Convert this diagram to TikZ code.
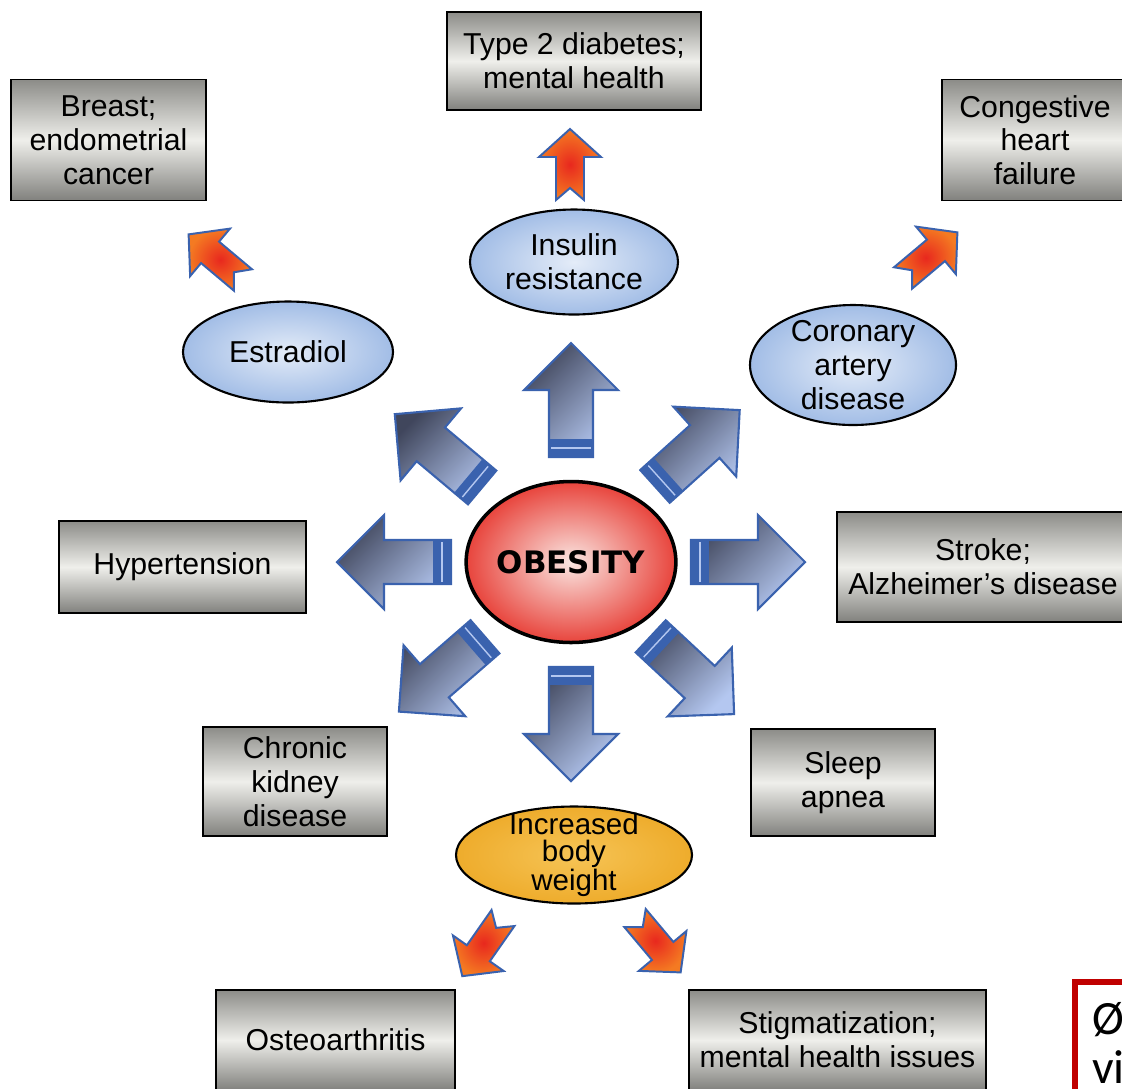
\documentclass[tikz,border=0pt]{standalone}
\usepackage{fontspec}
\setmainfont{Liberation Sans}
\newfontfamily\obesefont{DejaVu Sans}
\newfontfamily\notefont{Carlito}
\usepackage{tikz}
\usetikzlibrary{shapes.geometric}
\definecolor{boxgray}{HTML}{8C8C88}
\definecolor{boxlight}{HTML}{EFEFEB}
\definecolor{ovalblue}{HTML}{A2BDE6}
\definecolor{ovallight}{HTML}{E4ECF8}
\definecolor{arrowblue}{HTML}{3A62AE}
\definecolor{arrowdark}{HTML}{40465C}
\definecolor{arrowlight}{HTML}{B4C7F0}
\definecolor{redin}{HTML}{E8281E}
\definecolor{redout}{HTML}{F47A22}
\definecolor{obesin}{HTML}{FAE6E2}
\definecolor{obesout}{HTML}{E8443C}
\definecolor{weightin}{HTML}{F6C456}
\definecolor{weightout}{HTML}{EEAC2C}
\definecolor{notered}{HTML}{C00000}
\newcommand{\pxu}{0.025cm}
\tikzset{graybox/.style={draw=black, line width=1.3pt, top color=boxgray, bottom color=boxgray!92!black,
    middle color=boxlight, align=center, inner sep=0pt, font=\fontsize{21.5}{24}\selectfont},
  blueoval/.style={ellipse, draw=black, line width=1.5pt, inner color=ovallight, outer color=ovalblue,
    align=center, inner sep=0pt, font=\fontsize{21.5}{24}\selectfont},
  bluearrow/.style={draw=arrowblue, line width=1.5pt, top color=arrowdark, bottom color=arrowlight, shading angle=45},
  redarrow/.style={draw=arrowblue, line width=1.4pt, inner color=redin, outer color=redout}
}
% #1 angle, #2 distance of the tail from the centre
\newcommand{\bigarrow}[2]{%
  \begin{scope}[shift={(obesity.center)}, rotate=#1]
    \draw[bluearrow] (#2,-22) -- (#2+67,-22) -- (#2+67,-47) -- (#2+114,0) -- (#2+67,47) -- (#2+67,22) -- (#2,22) -- cycle;
    \fill[arrowblue] (#2,-22) rectangle (#2+18,22);
    \draw[arrowlight, line width=1pt] (#2+9,-20) -- (#2+9,20);
  \end{scope}}
% #1 tail point, #2 angle
\newcommand{\tinyarrow}[2]{%
  \begin{scope}[shift={(#1)}, rotate=#2]
    \draw[redarrow] (0,14) -- (12,0) -- (0,-14) -- (43,-14) -- (43,-31) -- (71,0) -- (43,31) -- (43,14) -- cycle;
  \end{scope}}

\begin{document}
\begin{tikzpicture}[x=0.025cm, y=-0.025cm]
  \useasboundingbox (0,0) rectangle (1122,1088);

  % Centre
  \node[ellipse, draw=black, line width=2.5pt, inner color=obesin, outer color=obesout, inner sep=0pt,
    minimum width=182*\pxu, minimum height=161*\pxu,
    font=\obesefont\bfseries\fontsize{22}{24}\selectfont] (obesity) at (571,562) {OBESITY};

  % Blue arrows
  \bigarrow{90}{105}
  \bigarrow{270}{105}
  \bigarrow{0}{120}
  \bigarrow{180}{120}
  \bigarrow{42}{113}
  \bigarrow{140}{116}
  \bigarrow{221}{114}
  \bigarrow{317}{109}

  % Ovals
  \node[blueoval, minimum width=208*\pxu, minimum height=105*\pxu] (insulin) at (574,262) {Insulin\\resistance};
  \node[blueoval, minimum width=210*\pxu, minimum height=101*\pxu] (estradiol) at (288,352) {Estradiol};
  \node[blueoval, minimum width=206*\pxu, minimum height=120*\pxu, inner ysep=-8pt] (coronary) at (853,365) {Coronary\\artery\\disease};
  \node[ellipse, draw=black, line width=1.5pt, inner color=weightin, outer color=weightout, align=center,
    inner sep=0pt, inner ysep=-9pt, minimum width=236*\pxu, minimum height=97*\pxu,
    font=\fontsize{21}{19}\selectfont] (weight) at (574,855) {Increased\\body\\weight};

  % Boxes
  \node[graybox, minimum width=254*\pxu, minimum height=98*\pxu] (diabetes) at (574,61) {Type 2 diabetes;\\mental health};
  \node[graybox, minimum width=195*\pxu, minimum height=121*\pxu] (breast) at (108.5,140) {Breast;\\endometrial\\cancer};
  \node[graybox, minimum width=186*\pxu, minimum height=121*\pxu] (heart) at (1035,140) {Congestive\\heart\\failure};
  \node[graybox, minimum width=247*\pxu, minimum height=92*\pxu] (hyper) at (182.5,567) {Hypertension};
  \node[graybox, minimum width=292*\pxu, minimum height=110*\pxu] (stroke) at (983,567) {Stroke;\\Alzheimer’s disease};
  \node[graybox, minimum width=184*\pxu, minimum height=109*\pxu] (kidney) at (295,781.5) {Chronic\\kidney\\disease};
  \node[graybox, minimum width=184*\pxu, minimum height=107*\pxu] (sleep) at (843,782.5) {Sleep\\apnea};
  \node[graybox, minimum width=239*\pxu, minimum height=100*\pxu] (osteo) at (335.5,1040) {Osteoarthritis};
  \node[graybox, minimum width=297*\pxu, minimum height=100*\pxu] (stigma) at (837.5,1040) {Stigmatization;\\mental health issues};

  % Red arrows
  \tinyarrow{570,200}{90}
  \tinyarrow{243,280}{140}
  \tinyarrow{903,278}{40}
  \tinyarrow{503,918}{235}
  \tinyarrow{635,918}{310}

  % Note
  \draw[notered, line width=4.3pt] (1075,982) rectangle (1170,1130);
  \node[anchor=base west, inner sep=0pt, font=\notefont\fontsize{34}{40}\selectfont] (noteA) at (1092,1034) {Ø};
  \node[anchor=base west, inner sep=0pt, font=\notefont\fontsize{34}{40}\selectfont] (noteB) at (1092,1083) {vi};
\end{tikzpicture}
\end{document}
